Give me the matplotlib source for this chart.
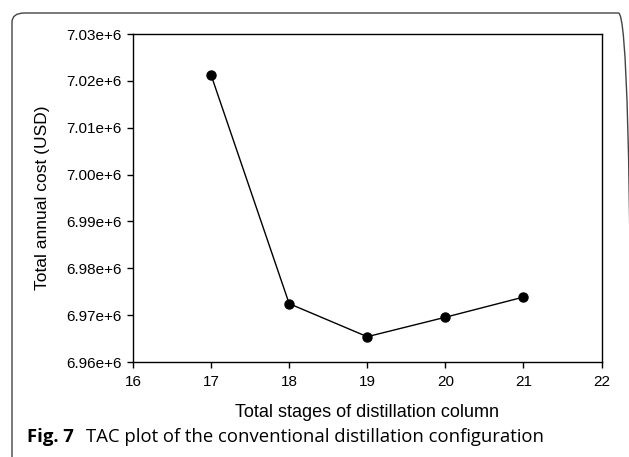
import matplotlib
matplotlib.use("Agg")
import matplotlib.pyplot as plt
from matplotlib.patches import FancyBboxPatch

stages = [17, 18, 19, 20, 21]
tac = [7.02125e6, 6.97245e6, 6.96540e6, 6.96955e6, 6.97385e6]
yticks = [6.96e6, 6.97e6, 6.98e6, 6.99e6, 7.00e6, 7.01e6, 7.02e6, 7.03e6]
ytick_labels = ["6.96e+6", "6.97e+6", "6.98e+6", "6.99e+6", "7.00e+6", "7.01e+6", "7.02e+6", "7.03e+6"]
xticks = [16, 17, 18, 19, 20, 21, 22]

W, H = 629, 457
fig = plt.figure(figsize=(W / 100, H / 100), dpi=100)
plt.rcParams['font.family'] = ['Liberation Sans', 'DejaVu Sans']

# rounded border
bx0, by_top, bx1 = 12, 13, 631
border = FancyBboxPatch((bx0 / W, -0.05), (bx1 - bx0) / W, (H - by_top) / H + 0.05,
                        boxstyle="round,pad=0,rounding_size=0.02",
                        transform=fig.transFigure, fill=False,
                        edgecolor="#444444", linewidth=1.0, clip_on=False)
fig.patches.append(border)

ax = fig.add_axes([133 / W, 1 - 362 / H, (601.5 - 133) / W, (362 - 34) / H])
ax.plot(stages, tac, color="black", linewidth=1.0, marker="o", markersize=6.5,
        markerfacecolor="black", markeredgecolor="black")
ax.set_xlim(16, 22)
ax.set_ylim(6.96e6, 7.03e6)
ax.set_xticks(xticks)
ax.set_xticklabels([str(x) for x in xticks], fontsize=11)
ax.set_yticks(yticks)
ax.set_yticklabels(ytick_labels, fontsize=11)
ax.tick_params(direction="out", length=4, width=1, top=False, right=False)
ax.tick_params(axis="x", pad=5)
ax.tick_params(axis="y", pad=4)
for s in ax.spines.values():
    s.set_linewidth(1.0)
ax.set_xlabel("Total stages of distillation column", fontsize=13, labelpad=11)
ax.set_ylabel("Total annual cost (USD)", fontsize=12.5, labelpad=12)

fig.text(27 / W, 1 - 437 / H, "Fig. 7", fontsize=13.3, fontweight="bold",
         family=["Open Sans", "DejaVu Sans"], va="center", ha="left")
fig.text(86 / W, 1 - 437 / H, "TAC plot of the conventional distillation configuration",
         fontsize=13.3, family=["Open Sans", "DejaVu Sans"], va="center", ha="left")

fig.savefig("out.png", dpi=100)
